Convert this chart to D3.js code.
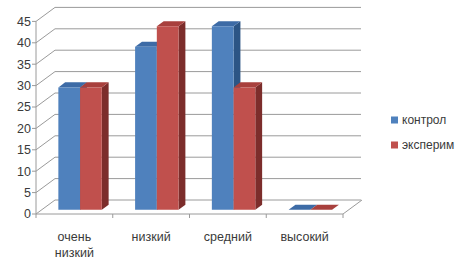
<!DOCTYPE html>
<html>
<head>
<meta charset="utf-8">
<script src="https://cdn.jsdelivr.net/npm/d3@7"></script>
<style>
  body { margin: 0; background: #fff; }
  svg { display: block; font-family: "Liberation Sans", Arial, sans-serif; }
</style>
</head>
<body>
<div id="chart"></div>
<script>
const categories = [["очень", "низкий"], ["низкий"], ["средний"], ["высокий"]];
const seriesNames = ["контрол", "эксперим"];
const control = [28.6, 38.1, 42.9, 0];
const experiment = [28.6, 42.9, 28.6, 0];
const yTicks = [0, 5, 10, 15, 20, 25, 30, 35, 40, 45];

const colors = [
  { front: "#4f81bd", top: "#3d6ba6", side: "#2c5585" },
  { front: "#c0504d", top: "#a8403d", side: "#7c2d2b" }
];

const W = 459, H = 266;
const svg = d3.select("#chart").append("svg").attr("width", W).attr("height", H);

// front plane + depth offset for the 3d box
const DX = 19, DY = 14;
const x = d3.scaleBand().domain(d3.range(categories.length)).range([36, 343]);
const y = d3.scaleLinear().domain([0, 45]).range([214, 21.4]);
const p = (px, v, d) => [px + d * DX, y(v) - d * DY];

const gridColor = "#9a9a9a";
const textColor = "#3a3a3a";

// back wall gridlines + left wall diagonals
yTicks.forEach(t => {
  const b0 = p(36, t, 1), b1 = p(342, t, 1), f = p(36, t, 0);
  svg.append("path")
    .attr("d", `M${f[0]},${f[1]}L${b0[0]},${b0[1]}L${b1[0]},${b1[1]}`)
    .attr("fill", "none").attr("stroke", gridColor).attr("stroke-width", 1);
});

// floor front edge + right edge
{
  const a = p(36, 0, 0), b = p(343, 0, 0), c = p(343, 0, 1);
  svg.append("path").attr("d", `M${a[0]},${a[1]}L${b[0]},${b[1]}L${c[0]},${c[1]}`)
    .attr("fill", "none").attr("stroke", gridColor);
}

// y axis line, ticks, labels
svg.append("line").attr("x1", 36).attr("x2", 36).attr("y1", y(45)).attr("y2", y(0))
  .attr("stroke", gridColor);
yTicks.forEach(t => {
  svg.append("line").attr("x1", 32).attr("x2", 36).attr("y1", y(t)).attr("y2", y(t)).attr("stroke", gridColor);
  svg.append("text").attr("x", 31).attr("y", y(t)).attr("dy", "0.35em")
    .attr("text-anchor", "end").attr("font-size", 12.5).attr("fill", textColor).text(t);
});

// category ticks + labels
d3.range(categories.length + 1).forEach(i => {
  const xx = i < categories.length ? x(i) : x.range()[1];
  svg.append("line").attr("x1", xx).attr("x2", xx).attr("y1", y(0)).attr("y2", y(0) + 4).attr("stroke", gridColor);
});
categories.forEach((lines, i) => {
  const cx = x(i) + x.bandwidth() / 2;
  const t = svg.append("text").attr("text-anchor", "middle").attr("font-size", 12.5).attr("fill", textColor);
  lines.forEach((s, j) => t.append("tspan").attr("x", cx).attr("y", 241 + j * 16).text(s));
});

// bars
const barW = x.bandwidth() * 0.283;
const d0 = 0.3, d1 = 0.66;
const data = [control, experiment];
categories.forEach((c, i) => {
  const cx = x(i) + x.bandwidth() / 2;
  data.forEach((vals, s) => {
    const v = vals[i];
    const xl = cx - barW + s * barW, xr = xl + barW;
    const col = colors[s];
    const poly = pts => pts.map(q => q.join(",")).join(" ");
    // side
    svg.append("polygon").attr("fill", col.side)
      .attr("points", poly([p(xr, 0, d0), p(xr, 0, d1), p(xr, v, d1), p(xr, v, d0)]));
    // top
    svg.append("polygon").attr("fill", col.top)
      .attr("points", poly([p(xl, v, d0), p(xr, v, d0), p(xr, v, d1), p(xl, v, d1)]));
    // front
    if (v > 0) {
      svg.append("polygon").attr("fill", col.front)
        .attr("points", poly([p(xl, 0, d0), p(xr, 0, d0), p(xr, v, d0), p(xl, v, d0)]));
    }
  });
});

// legend
seriesNames.forEach((name, s) => {
  const ly = 120 + s * 25;
  svg.append("rect").attr("x", 391).attr("y", ly - 3.5).attr("width", 7).attr("height", 7).attr("fill", colors[s].front);
  svg.append("text").attr("x", 402).attr("y", ly).attr("dy", "0.35em")
    .attr("font-size", 12).attr("fill", textColor).text(name);
});
</script>
</body>
</html>
